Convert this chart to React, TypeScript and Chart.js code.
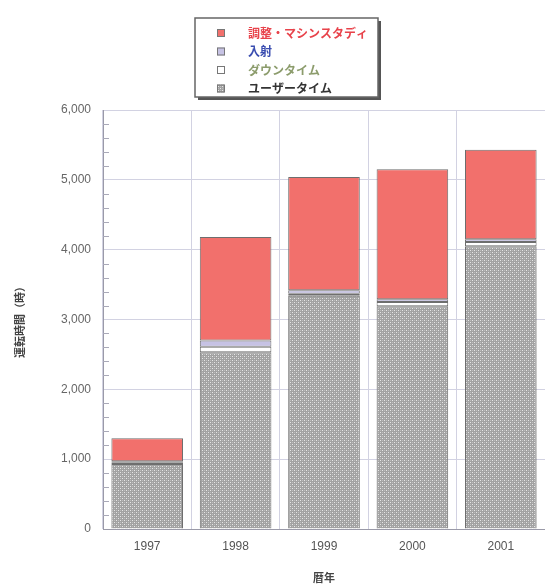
import React, { useEffect, useRef } from "react";
import { Chart, registerables } from "chart.js";

Chart.register(...registerables);

// Operating hours per calendar year, split by usage category (hours)
const years = ["1997", "1998", "1999", "2000", "2001"];
const userTime = [930, 2530, 3340, 3190, 4050];
const downTime = [20, 80, 30, 60, 60];
const injection = [20, 90, 50, 40, 40];
const tuning = [330, 1480, 1620, 1860, 1280];

const yMax = 6000;
const yStep = 1000;
const yMinorStep = 200;

const seriesNames = ["ユーザータイム", "ダウンタイム", "入射", "調整・マシンスタディ"];
const legendTextColors = ["#333333", "#8c9c6c", "#3a4db0", "#e8434b"];

const FONT_JP = "'Noto Sans CJK JP', 'Noto Sans', sans-serif";
const FONT_NUM = "'Liberation Sans', 'DejaVu Sans', sans-serif";

function makeDotPattern(): CanvasPattern | string {
  const tile = document.createElement("canvas");
  tile.width = 4;
  tile.height = 4;
  const t = tile.getContext("2d");
  if (!t) return "#aaaaaa";
  t.fillStyle = "#a2a2a2";
  t.fillRect(0, 0, 4, 4);
  t.fillStyle = "#e6e6e6";
  t.fillRect(0, 0, 1, 1);
  t.fillRect(2, 2, 1, 1);
  t.fillStyle = "#bdbdbd";
  t.fillRect(2, 0, 1, 1);
  t.fillRect(0, 2, 1, 1);
  const p = t.createPattern(tile, "repeat");
  return p || "#aaaaaa";
}

export default function App() {
  const canvasRef = useRef<HTMLCanvasElement | null>(null);

  useEffect(() => {
    const canvas = canvasRef.current;
    if (!canvas) return;
    const dots = makeDotPattern();
    const fills: any[] = [dots, "#ffffff", "#c6c2e4", "#f2706c"];
    const values = [userTime, downTime, injection, tuning];

    // minor ticks along the inside of the value axis
    const minorTicks = {
      id: "minorTicks",
      afterDatasetsDraw(chart: any) {
        const { ctx, chartArea, scales } = chart;
        const y = scales.y;
        ctx.save();
        ctx.strokeStyle = "#a9a9b8";
        ctx.lineWidth = 1;
        for (let v = 0; v <= yMax; v += yMinorStep) {
          if (v % yStep === 0) continue;
          const py = Math.round(y.getPixelForValue(v)) + 0.5;
          ctx.beginPath();
          ctx.moveTo(chartArea.left, py);
          ctx.lineTo(chartArea.left + 6, py);
          ctx.stroke();
        }
        ctx.restore();
      },
    };

    // boxed legend with drop shadow, listed top-down from the upper series
    const boxedLegend = {
      id: "boxedLegend",
      afterDraw(chart: any) {
        const { ctx } = chart;
        const bx = 195, by = 18, bw = 183, bh = 79;
        ctx.save();
        ctx.fillStyle = "#555555";
        ctx.fillRect(bx + 3, by + 3, bw, bh);
        ctx.fillStyle = "#ffffff";
        ctx.fillRect(bx, by, bw, bh);
        ctx.strokeStyle = "#666666";
        ctx.lineWidth = 1.5;
        ctx.strokeRect(bx, by, bw, bh);
        const ds = chart.data.datasets;
        ctx.font = `bold 12px ${FONT_JP}`;
        ctx.textBaseline = "middle";
        for (let i = 0; i < ds.length; i++) {
          const di = ds.length - 1 - i;
          const cy = by + 15 + i * 18.5;
          ctx.fillStyle = ds[di].backgroundColor;
          ctx.fillRect(217, cy - 4, 8, 8);
          ctx.strokeStyle = "#777777";
          ctx.lineWidth = 1;
          ctx.strokeRect(217.5, cy - 3.5, 7, 7);
          ctx.fillStyle = legendTextColors[di];
          ctx.fillText(ds[di].label, 248, cy);
        }
        ctx.restore();
      },
    };

    const chart = new Chart(canvas, {
      type: "bar",
      data: {
        labels: years,
        datasets: values.map((d, i) => ({
          label: seriesNames[i],
          data: d,
          backgroundColor: fills[i],
          borderColor: "#6e6e6e",
          borderWidth: 1,
          borderSkipped: i === 0 ? "start" : false,
          categoryPercentage: 1,
          barPercentage: 0.81,
        })),
      },
      options: {
        responsive: false,
        animation: false,
        layout: { padding: { top: 110, right: 0, bottom: 0, left: 0 } },
        plugins: {
          legend: { display: false },
          tooltip: { enabled: false },
        },
        scales: {
          x: {
            stacked: true,
            offset: true,
            grid: { offset: true, color: "#d2d2e2", drawTicks: false },
            border: { color: "#9a9aa8", width: 1 },
            ticks: {
              padding: 10,
              color: "#555555",
              font: { family: FONT_NUM, size: 12 },
            },
            title: {
              display: true,
              text: "暦年",
              color: "#444444",
              font: { family: FONT_JP, size: 11, weight: "bold" },
              padding: { top: 4, bottom: 1 },
            },
            afterFit(scale: any) {
              scale.height = 56;
            },
          },
          y: {
            stacked: true,
            min: 0,
            max: yMax,
            grid: { color: "#d2d2e2", drawTicks: false },
            border: { color: "#9a9aa8", width: 1 },
            ticks: {
              stepSize: yStep,
              padding: 12,
              color: "#666666",
              font: { family: FONT_NUM, size: 12 },
              callback: (v: any) => Number(v).toLocaleString("en-US"),
            },
            title: {
              display: true,
              text: "運転時間（時）",
              color: "#444444",
              font: { family: FONT_JP, size: 11, weight: "bold" },
              padding: { top: 13, bottom: 0 },
            },
            afterFit(scale: any) {
              scale.width = 103;
            },
          },
        },
      },
      plugins: [minorTicks, boxedLegend],
    } as any);

    return () => chart.destroy();
  }, []);

  return (
    <div style={{ position: "absolute", left: 0, top: 0, width: 545, height: 585, background: "#ffffff" }}>
      <canvas ref={canvasRef} width={545} height={585} />
    </div>
  );
}
